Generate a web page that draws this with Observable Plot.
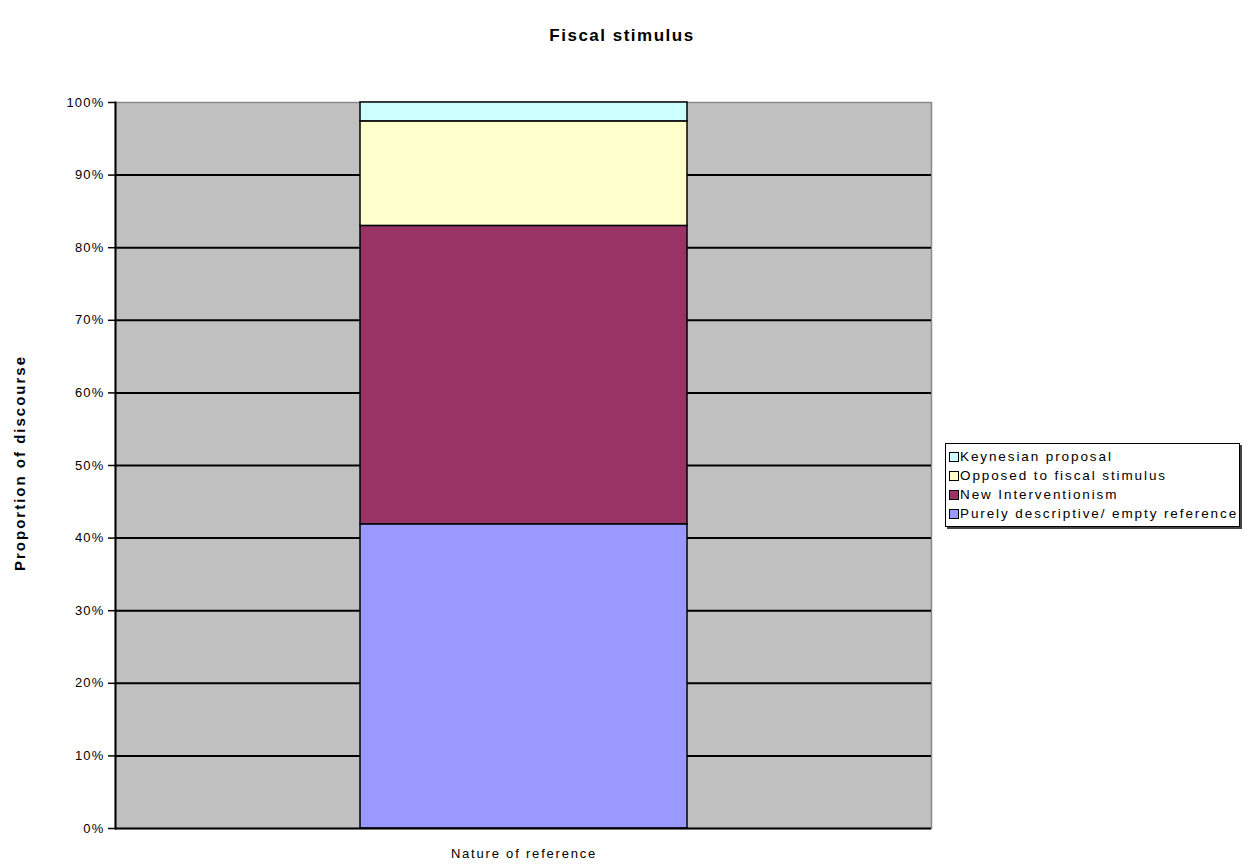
<!DOCTYPE html>
<html>
<head>
<meta charset="utf-8">
<script src="https://cdn.jsdelivr.net/npm/d3@7"></script>
<script src="https://cdn.jsdelivr.net/npm/@observablehq/plot@0.6"></script>
<style>
  html, body { margin: 0; padding: 0; background: #fff; }
  #wrap { position: relative; width: 1244px; height: 865px; font-family: "Liberation Sans", Arial, sans-serif; }
  #title { position: absolute; left: 0; width: 1244px; top: 26px; text-align: center; font-weight: bold; font-size: 17px; letter-spacing: 1.5px; color: #000; }
  #ylab { position: absolute; left: 19px; top: 463px; transform: translate(-50%, -50%) rotate(-90deg); white-space: nowrap; font-weight: bold; font-size: 15px; letter-spacing: 2px; }
  #xlab { position: absolute; left: 524px; top: 853px; transform: translate(-50%, -50%); white-space: nowrap; font-size: 13px; letter-spacing: 1.8px; }
  #legend { position: absolute; left: 945px; top: 443px; width: 295px; border: 1px solid #000; box-shadow: 2px 2px 0 #444; background: #fff; padding: 3px 0 3px 3px; box-sizing: border-box; font-size: 13.5px; letter-spacing: 1.9px; }
  .item { display: flex; align-items: center; height: 19px; white-space: nowrap; }
  .sw { width: 8px; height: 8px; border: 1px solid #000; margin-right: 1px; flex: none; }
  #chart { position: absolute; left: 0; top: 0; }
</style>
</head>
<body>
<div id="wrap">
  <div id="chart"></div>
  <div id="title"></div>
  <div id="ylab"></div>
  <div id="xlab"></div>
  <div id="legend"></div>
</div>
<script>
// Data
const titleText = "Fiscal stimulus";
const yLabel = "Proportion of discourse";
const category = "Nature of reference";
const seriesNames = ["Purely descriptive/ empty reference", "New Interventionism", "Opposed to fiscal stimulus", "Keynesian proposal"];
const seriesValues = [0.419, 0.411, 0.144, 0.026];
const yTicks = [0, 0.1, 0.2, 0.3, 0.4, 0.5, 0.6, 0.7, 0.8, 0.9, 1.0];

// Styles
const seriesColors = ["#9999ff", "#993366", "#ffffcc", "#ccffff"];

const data = seriesNames.map((s, i) => ({cat: category, series: s, value: seriesValues[i]}));

const chart = Plot.plot({
  width: 1244,
  height: 865,
  marginLeft: 115,
  marginRight: 313,
  marginTop: 102,
  marginBottom: 37,
  style: {fontFamily: "'Liberation Sans', Arial, sans-serif", fontSize: "13px", letterSpacing: "1.2px", background: "transparent", overflow: "visible"},
  x: {domain: [category], padding: 0.428, axis: null},
  y: {domain: [0, 1], axis: null},
  color: {domain: seriesNames, range: seriesColors},
  marks: [
    Plot.frame({fill: "#c0c0c0", stroke: "#8a8a8a", strokeWidth: 1.5}),
    Plot.gridY(yTicks.slice(1, -1), {stroke: "#000", strokeOpacity: 1, strokeWidth: 2}),
    Plot.barY(data, {x: "cat", y: "value", fill: "series", stroke: "#000", strokeWidth: 1.5}),
    Plot.ruleY([0], {stroke: "#000", strokeWidth: 2}),
    Plot.frame({anchor: "left", stroke: "#000", strokeWidth: 2}),
    Plot.axisY(yTicks, {tickFormat: d3.format(".0%"), tickSize: 7, tickPadding: 4, stroke: "#000", strokeWidth: 1.5, label: null, fontSize: 13}),
    Plot.axisX({ticks: [], label: null})
  ]
});
document.getElementById("chart").appendChild(chart);

document.getElementById("title").textContent = titleText;
document.getElementById("ylab").textContent = yLabel;
document.getElementById("xlab").textContent = category;

const legend = document.getElementById("legend");
for (let i = seriesNames.length - 1; i >= 0; i--) {
  const item = document.createElement("div");
  item.className = "item";
  const sw = document.createElement("span");
  sw.className = "sw";
  sw.style.background = seriesColors[i];
  const t = document.createElement("span");
  t.textContent = seriesNames[i];
  item.appendChild(sw);
  item.appendChild(t);
  legend.appendChild(item);
}
</script>
</body>
</html>
